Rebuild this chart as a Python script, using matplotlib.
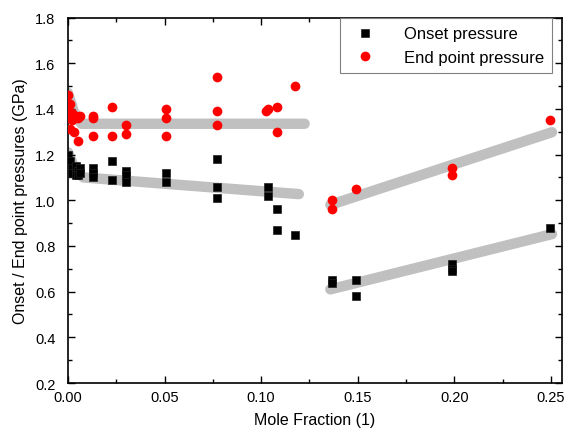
import numpy as np
import matplotlib
matplotlib.use("Agg")
import matplotlib.pyplot as plt
from matplotlib.ticker import MultipleLocator

plt.rcParams['font.family'] = ['Liberation Sans', 'DejaVu Sans']

# onset pressure (black squares)
onset_x = [0.000, 0.000, 0.000, 0.001, 0.001, 0.002, 0.002, 0.004, 0.004, 0.004,
           0.005, 0.005, 0.006, 0.006,
           0.013, 0.013, 0.013, 0.023, 0.023, 0.030, 0.030, 0.030,
           0.051, 0.051, 0.077, 0.077, 0.077,
           0.1035, 0.1035, 0.108, 0.108, 0.1175,
           0.1366, 0.1366, 0.149, 0.149, 0.199, 0.199, 0.199, 0.2495]
onset_y = [1.20, 1.15, 1.12, 1.17, 1.13, 1.14, 1.12, 1.15, 1.12, 1.11,
           1.13, 1.11, 1.14, 1.12,
           1.14, 1.12, 1.10, 1.17, 1.09, 1.13, 1.11, 1.08,
           1.12, 1.08, 1.18, 1.06, 1.01,
           1.06, 1.02, 0.96, 0.87, 0.85,
           0.65, 0.64, 0.65, 0.58, 0.72, 0.70, 0.69, 0.88]

# end point pressure (red circles)
end_x = [0.000, 0.000, 0.000, 0.001, 0.001, 0.002, 0.002, 0.003, 0.004, 0.005,
         0.005, 0.006,
         0.013, 0.013, 0.013, 0.023, 0.023, 0.030, 0.030,
         0.051, 0.051, 0.051, 0.077, 0.077, 0.077,
         0.1025, 0.1035, 0.108, 0.108, 0.1175,
         0.1366, 0.1366, 0.149, 0.199, 0.199, 0.2495]
end_y = [1.46, 1.40, 1.36, 1.42, 1.31, 1.38, 1.35, 1.30, 1.37, 1.36,
         1.26, 1.37,
         1.37, 1.36, 1.28, 1.41, 1.28, 1.33, 1.29,
         1.40, 1.36, 1.28, 1.54, 1.39, 1.33,
         1.39, 1.40, 1.41, 1.30, 1.50,
         1.00, 0.96, 1.05, 1.14, 1.11, 1.35]

# fitted trend lines (grey)
fit_end_left_x = [0.000, 0.003, 0.007, 0.1225]
fit_end_left_y = [1.47, 1.39, 1.335, 1.335]
fit_on_left_x = [0.000, 0.004, 0.008, 0.1195]
fit_on_left_y = [1.21, 1.13, 1.10, 1.027]
fit_end_right_x = [0.1358, 0.2505]
fit_end_right_y = [0.98, 1.298]
fit_on_right_x = [0.1358, 0.2505]
fit_on_right_y = [0.61, 0.852]

fig = plt.figure(figsize=(5.66, 4.31), dpi=100)
ax = fig.add_axes([0.120, 0.109, 0.873, 0.848])

grey = '#c0c0c0'
for fx, fy in [(fit_end_left_x, fit_end_left_y), (fit_on_left_x, fit_on_left_y),
               (fit_end_right_x, fit_end_right_y), (fit_on_right_x, fit_on_right_y)]:
    ax.plot(fx, fy, color=grey, lw=7.5, solid_capstyle='round',
            solid_joinstyle='round', zorder=1)

ax.plot(onset_x, onset_y, 's', color='black', ms=6, mec='#202020', mew=0.5,
        ls='none', label='Onset pressure', zorder=3)
ax.plot(end_x, end_y, 'o', color='red', ms=7, mec='red', mew=0,
        ls='none', label='End point pressure', zorder=3)

ax.set_xlim(0, 0.2557)
ax.set_ylim(0.2, 1.8)
ax.xaxis.set_major_locator(MultipleLocator(0.05))
ax.xaxis.set_minor_locator(MultipleLocator(0.025))
ax.yaxis.set_major_locator(MultipleLocator(0.2))
ax.yaxis.set_minor_locator(MultipleLocator(0.1))
ax.xaxis.set_major_formatter(matplotlib.ticker.FormatStrFormatter('%.2f'))
ax.yaxis.set_major_formatter(matplotlib.ticker.FormatStrFormatter('%.1f'))
ax.tick_params(which='both', direction='in', top=True, right=True,
               labelsize=10.5, width=1)
ax.tick_params(which='major', length=5)
ax.tick_params(which='minor', length=3)
ax.tick_params(axis='y', pad=9)
ax.tick_params(axis='x', pad=5)
for s in ax.spines.values():
    s.set_linewidth(1.2)

ax.set_xlabel('Mole Fraction (1)', fontsize=11.5, labelpad=6)
ax.set_ylabel('Onset / End point pressures (GPa)', fontsize=11.5, labelpad=5)

leg = ax.legend(loc='upper right', numpoints=1, fontsize=12, fancybox=False,
                edgecolor='#808080', framealpha=1, borderpad=0.5,
                handletextpad=1.3, labelspacing=0.5, borderaxespad=0,
                bbox_to_anchor=(552 / 566, 1 - 19 / 431),
                bbox_transform=fig.transFigure)
leg.get_frame().set_linewidth(0.8)

fig.savefig('out.png', dpi=100)
